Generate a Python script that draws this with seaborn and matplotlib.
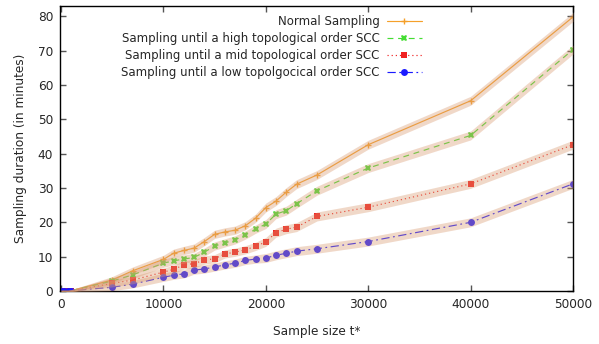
#!/usr/bin/env python3
"""Sampling duration vs sample size, with spread bands."""

import pandas as pd
import matplotlib
matplotlib.use("Agg")
import matplotlib.pyplot as plt
import seaborn as sns

sample_sizes = [0, 300, 700, 1000, 5000, 7000, 10000, 11000, 12000, 13000, 14000,
                15000, 16000, 17000, 18000, 19000, 20000, 21000, 22000, 23000,
                25000, 30000, 40000, 50000]

normal = [0.05, 0.05, 0.05, 0.1, 3.2, 5.9, 9.2, 11.0, 11.8, 12.5, 14.4, 16.5, 17.2,
          17.7, 19.0, 21.2, 24.3, 26.2, 28.8, 31.1, 33.8, 42.6, 55.4, 79.8]
high_scc = [0.05, 0.05, 0.05, 0.1, 2.9, 4.7, 8.1, 8.8, 9.3, 9.8, 11.3, 13.1, 14.0,
            14.9, 16.3, 18.0, 19.5, 22.4, 23.4, 25.4, 29.2, 35.8, 45.3, 70.3]
mid_scc = [0.05, 0.05, 0.05, 0.1, 2.2, 3.2, 5.5, 6.3, 7.6, 8.0, 9.0, 9.4, 10.8,
           11.3, 12.0, 13.0, 14.3, 17.0, 18.0, 18.6, 21.7, 24.4, 31.2, 42.6]
low_scc = [0.05, 0.05, 0.05, 0.1, 1.1, 2.0, 4.0, 4.6, 5.0, 6.1, 6.4, 7.0, 7.6,
           8.1, 8.9, 9.3, 9.6, 10.4, 11.0, 11.6, 12.3, 14.4, 20.0, 31.2]

# half width of the shaded spread band
spread = [0.2, 0.2, 0.2, 0.3, 1.0, 1.1, 1.2, 1.2, 1.2, 1.2, 1.2, 1.2, 1.2,
          1.2, 1.2, 1.2, 1.3, 1.3, 1.3, 1.3, 1.3, 1.3, 1.3, 1.3]

labels = ["Normal Sampling",
          "Sampling until a high topological order SCC",
          "Sampling until a mid topological order SCC",
          "Sampling until a low topolgocical order SCC"]

sns.set_style("ticks")
plt.rcParams["font.family"] = ["DejaVu Sans"]
plt.rcParams["font.size"] = 8.5

series = [
    (normal, "#f5a02a", "-", "+", 5),
    (high_scc, "#44dd33", (0, (5, 4)), "X", 4.5),
    (mid_scc, "#f02020", (0, (1, 2.5)), "s", 5),
    (low_scc, "#1a1aff", (0, (7, 3, 1.5, 3)), "o", 5),
]

fig = plt.figure(figsize=(5.99, 3.44), dpi=100)
ax = fig.add_axes([60 / 599, 53 / 344, 513 / 599, 285 / 344])

for (vals, color, ls, mk, ms), label in zip(series, labels):
    df = pd.DataFrame({"t": sample_sizes, "dur": vals})
    sns.lineplot(data=df, x="t", y="dur", ax=ax, color=color, linestyle=ls,
                 marker=mk, markersize=ms, markeredgewidth=1.0 if mk == "+" else 0,
                 markeredgecolor=color, linewidth=0.85, label=label)

# bands drawn on top, semi-transparent
for vals, *_ in series:
    lo = [v - s for v, s in zip(vals, spread)]
    hi = [v + s for v, s in zip(vals, spread)]
    ax.fill_between(sample_sizes, lo, hi, color="#d99a70", alpha=0.38,
                    linewidth=0, zorder=5)

ax.set_xlim(-100, 50000)
ax.set_ylim(0, 83)
ax.set_xticks([0, 10000, 20000, 30000, 40000, 50000])
ax.set_yticks(range(0, 81, 10))
ax.tick_params(direction="in", top=True, right=True, length=4.5, width=1,
               color="#555555", labelsize=8.7, pad=5)
for sp in ax.spines.values():
    sp.set_visible(True)
    sp.set_linewidth(1.0)
    sp.set_color("black")

ax.set_xlabel("Sample size t*", fontsize=8.7, labelpad=10)
ax.set_ylabel("Sampling duration (in minutes)", fontsize=8.7, labelpad=8)

ax.legend(loc="upper right", bbox_to_anchor=(0.715, 0.985), frameon=False,
          markerfirst=False, handlelength=3.0, labelspacing=0.35,
          handletextpad=0.6, fontsize=8.5, borderaxespad=0)

plt.savefig("out.png", dpi=100)
